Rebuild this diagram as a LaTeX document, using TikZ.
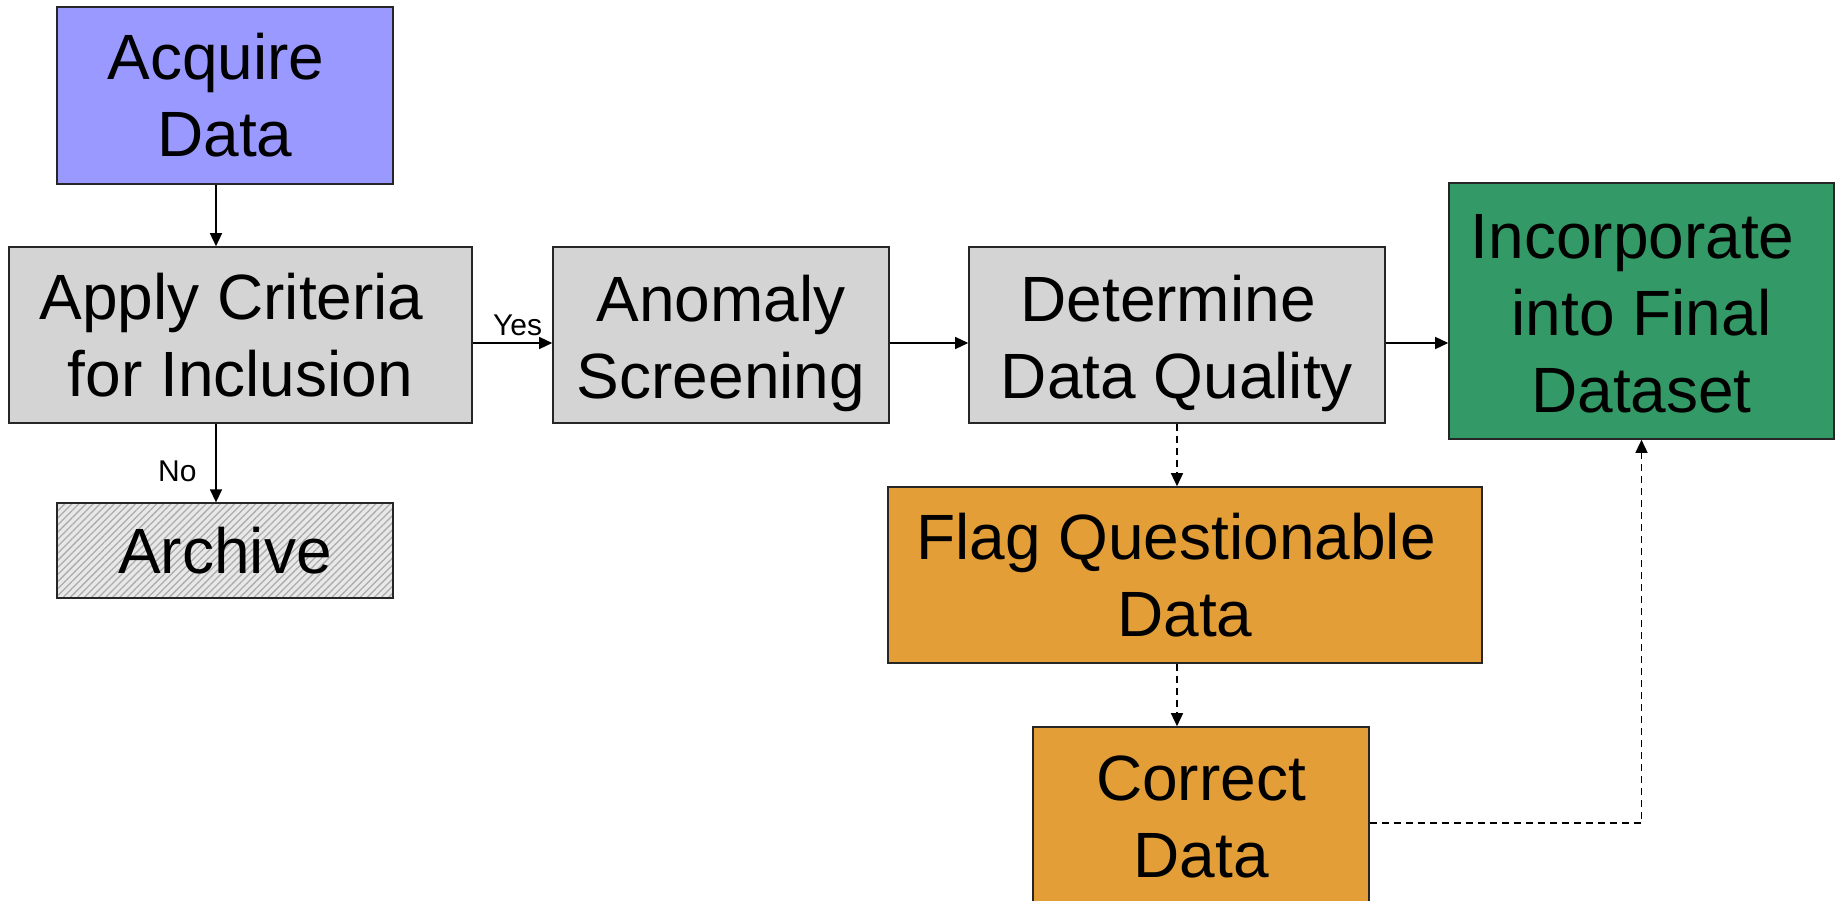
\documentclass[tikz,border=0pt]{standalone}
\usepackage{fontspec}
\setmainfont{Liberation Sans}
\usetikzlibrary{arrows.meta,patterns.meta}
\definecolor{acqblue}{RGB}{153,153,255}
\definecolor{boxgray}{RGB}{212,212,212}
\definecolor{incgreen}{RGB}{51,153,102}
\definecolor{flagorange}{RGB}{227,158,55}
\newcommand{\tsp}{\kern0.278em}
\tikzset{
  boxfont/.style={font=\fontsize{64}{77}\selectfont, text=black, align=center},
  box/.style={draw=black!85, line width=1.6pt, rectangle, inner sep=0pt, boxfont},
  lowtext/.style={label={[boxfont, yshift=-8pt]center:#1}},
  arr/.style={line width=1.4pt, -{Triangle[length=13pt,width=12pt]}},
  darr/.style={arr, dash pattern=on 7pt off 5pt},
  lbl/.style={font=\fontsize{30}{34}\selectfont, inner sep=0pt, anchor=base west}
}
\begin{document}
\begin{tikzpicture}[x=1pt,y=-1pt]
\clip (0,0) rectangle (1837,901);
\useasboundingbox (0,0) rectangle (1837,901);
\node[box, fill=acqblue, minimum width=336pt, minimum height=177pt] (acq) at (225,95.5) {Acquire\tsp\\Data};
\node[box, fill=boxgray, minimum width=463pt, minimum height=176pt] (app) at (240.5,335) {Apply Criteria\tsp\\for Inclusion};
\node[box, fill=boxgray, minimum width=336pt, minimum height=176pt, lowtext={Anomaly\\Screening}] (ano) at (721,335) {};
\node[box, fill=boxgray, minimum width=416pt, minimum height=176pt, lowtext={Determine\tsp\\Data Quality}] (det) at (1177,335) {};
\node[box, fill=incgreen, minimum width=385pt, minimum height=256pt, label={[boxfont, yshift=-3pt]center:Incorporate\tsp\\into Final\\Dataset}] (inc) at (1641.5,311) {};
\node[box, preaction={fill=gray!18}, pattern={Lines[angle=45,distance=5pt,line width=1.3pt]}, pattern color=gray!65,
  minimum width=336pt, minimum height=95pt] (arc) at (225,550.5) {Archive};
\node[box, fill=flagorange, minimum width=594pt, minimum height=176pt] (flag) at (1185,575) {Flag Questionable\tsp\\Data};
\node[box, fill=flagorange, minimum width=336pt, minimum height=176pt, label={[boxfont, yshift=-2pt]center:Correct\\Data}] (cor) at (1201,815) {};

\draw[arr] ([xshift=-9pt]acq.south) -- ([xshift=-9pt]acq.south |- app.north);
\draw[arr] ([xshift=-24.5pt]app.south) -- ([xshift=-24.5pt]app.south |- arc.north);
\draw[arr] ([yshift=-8pt]app.east) -- ([yshift=-8pt]app.east -| ano.west);
\draw[arr] ([yshift=-8pt]ano.east) -- ([yshift=-8pt]ano.east -| det.west);
\draw[arr] ([yshift=-8pt]det.east) -- ([yshift=-8pt]det.east -| inc.west);
\draw[darr] (det.south) -- (det.south |- flag.north);
\draw[darr] ([xshift=-8pt]flag.south) -- ([xshift=-8pt]flag.south |- cor.north);
\draw[darr] ([yshift=-8pt]cor.east) -| (inc.south);

\node[lbl] (yes) at (493,335) {Yes};
\node[lbl] (no) at (158,481) {No};
\end{tikzpicture}
\end{document}
